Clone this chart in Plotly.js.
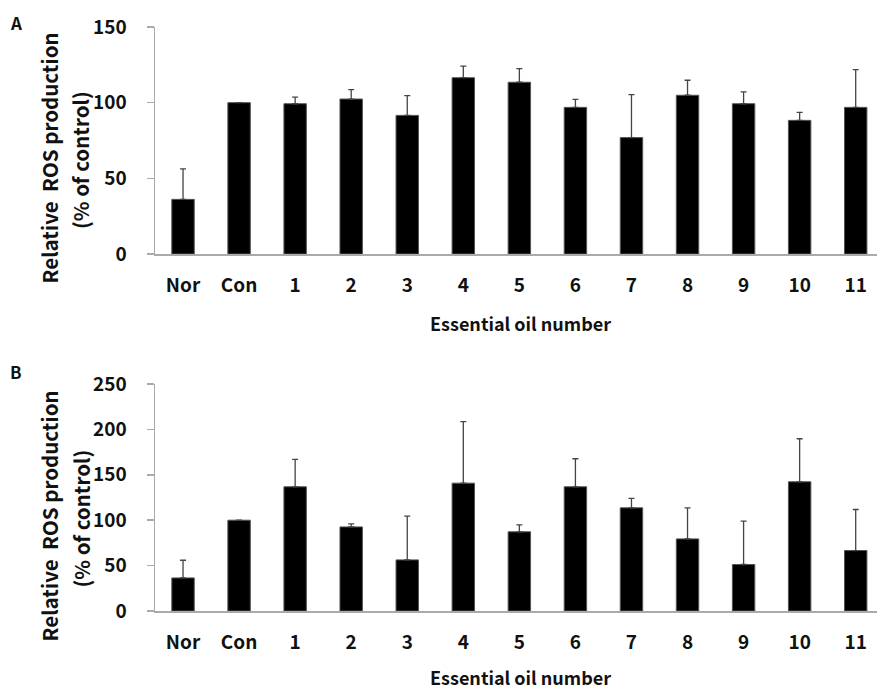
<!DOCTYPE html>
<html>
<head>
<meta charset="utf-8">
<script src="https://cdn.plot.ly/plotly-3.0.1.min.js"></script>
<style>html,body{margin:0;padding:0;background:#fff;}#chart{width:877px;height:691px;}</style>
</head>
<body>
<div id="chart"></div>
<script>
const categories = ["Nor","Con","1","2","3","4","5","6","7","8","9","10","11"];
const valuesA = [36.1,100,99.3,102.4,91.6,116.5,113.5,96.9,76.9,104.9,99.3,88.3,96.9];
const errTopA = [56.2,100,103.7,108.6,104.6,124.2,122.5,102.2,105.3,114.8,107.1,93.6,121.8];
const valuesB = [36.4,100,136.8,92.6,56.3,140.8,87.2,136.8,113.6,79.4,51.2,142.3,66.6];
const errTopB = [55.9,100,167,96,104.4,208.5,94.9,167.7,124,113.6,98.9,189.7,111.8];
const ticksA = [0,50,100,150];
const ticksB = [0,50,100,150,200,250];

const W=877,H=691,L=155,R=0,T=27,B=80;
const pw=W-L-R, ph=H-T-B;
const px2x = p => (p-L)/pw;
const py2y = p => (H-B-p)/ph;

const font = "'Noto Sans CJK KR', 'Noto Sans', sans-serif";

function trace(vals, tops, xa, ya){
  return {
    type:'bar', x:categories, y:vals, xaxis:xa, yaxis:ya,
    width:0.4,
    marker:{color:'#000', line:{color:'#555', width:1}},
    error_y:{type:'data', symmetric:false,
      array: tops.map((t,i)=>Math.max(0,t-vals[i])),
      arrayminus: vals.map(()=>0),
      color:'#444', thickness:1.3, width:3},
    hoverinfo:'none'
  };
}

const xcommon = {type:'category', range:[-0.5,12.38], showline:true, linecolor:'#aaa', linewidth:1.5,
  ticks:'', showgrid:false, zeroline:false, fixedrange:true,
  tickfont:{family:font, size:19, color:'#111', weight:'bold'}, ticklabelstandoff:14};
const ycommon = {showline:true, linecolor:'#aaa', linewidth:1.5, ticks:'outside', ticklen:7, tickcolor:'#aaa', tickwidth:1.5,
  showgrid:false, zeroline:false, tickfont:{family:font, size:19, color:'#111', weight:'bold'}, ticklabelstandoff:16};

const domA = [py2y(254), 1];
const domB = [0, py2y(384)];

function ann(text, x, y, size, angle){
  return {text:text, x:px2x(x), y:py2y(y), xref:'paper', yref:'paper', xanchor:'center', yanchor:'middle',
    showarrow:false, textangle:angle||0, font:{family:font,size:size,color:'#111',weight:'bold'}};
}

const layout = {
  width:W, height:H, margin:{l:L,r:R,t:T,b:B}, showlegend:false,
  paper_bgcolor:'#fff', plot_bgcolor:'#fff', bargap:0.6,
  xaxis: Object.assign({}, xcommon, {anchor:'y', domain:[0,1]}),
  yaxis: Object.assign({}, ycommon, {anchor:'x', domain:domA, range:[0,150], tickvals:ticksA}),
  xaxis2: Object.assign({}, xcommon, {anchor:'y2', domain:[0,1]}),
  yaxis2: Object.assign({}, ycommon, {anchor:'x2', domain:domB, range:[0,250], tickvals:ticksB}),
  annotations:[
    ann('A', 16, 22, 17),
    ann('B', 16, 371, 17),
    ann('Relative  ROS production', 48, 158.5, 20.5, -90),
    ann('(% of control)', 80, 160, 20.5, -90),
    ann('Relative  ROS production', 48, 516.5, 20.5, -90),
    ann('(% of control)', 80, 518.5, 20.5, -90),
    ann('Essential oil number', 520, 323, 18),
    ann('Essential oil number', 520, 677, 18)
  ]
};

Plotly.newPlot('chart', [trace(valuesA, errTopA, 'x', 'y'), trace(valuesB, errTopB, 'x2', 'y2')], layout, {staticPlot:true, displayModeBar:false});
</script>
</body>
</html>
